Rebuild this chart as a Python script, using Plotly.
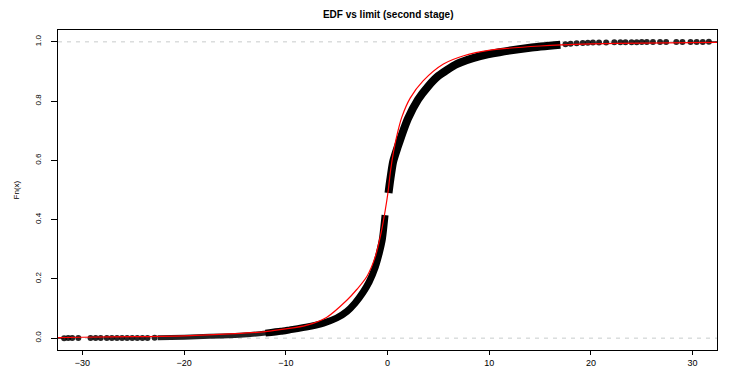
import plotly.graph_objects as go

edf_tail_x = [-22.6, -20.0, -17.5, -15.0, -13.5, -12.0, -10.5, -9.6]
edf_tail_y = [0.001, 0.003, 0.006, 0.009, 0.012, 0.017, 0.023, 0.028]
edf_lo_x = [-12.0, -10.5, -9.6, -8.0, -6.3, -5.0, -4.0, -3.2, -2.4, -1.8, -1.2, -0.8, -0.5, -0.24]
edf_lo_y = [0.017, 0.023, 0.028, 0.037, 0.051, 0.068, 0.090, 0.118, 0.155, 0.190, 0.240,
            0.288, 0.335, 0.415]
edf_hi_x = [0.10, 0.27, 0.55, 1.0, 1.45, 2.0, 3.0, 4.0, 5.0, 6.8, 9.1, 11.0, 14.0, 17.0]
edf_hi_y = [0.490, 0.534, 0.595, 0.645, 0.690, 0.740, 0.805, 0.850, 0.885, 0.925,
            0.952, 0.965, 0.980, 0.990]

# isolated tail observations
tail_lo_x = [-31.8, -31.4, -31.0, -30.4, -29.2, -28.7, -28.2, -27.6, -27.1, -26.6,
             -26.1, -25.6, -25.1, -24.6, -24.1, -23.6, -22.9]
tail_lo_y = [0.0000, 0.0001, 0.0002, 0.0003, 0.0003, 0.0004, 0.0005, 0.0005, 0.0006, 0.0006,
             0.0007, 0.0007, 0.0008, 0.0008, 0.0009, 0.0009, 0.0010]
tail_hi_x = [17.5, 18.0, 18.6, 19.2, 19.7, 20.2, 20.8, 21.5, 22.3, 22.9, 23.4, 24.0, 24.5, 25.0,
             25.5, 26.1, 26.8, 27.4, 28.4, 29.0, 29.8, 30.4, 31.0, 31.6]
tail_hi_y = [0.9920, 0.9935, 0.9950, 0.9962, 0.9970, 0.9975, 0.9978, 0.9980, 0.9983, 0.9985,
             0.9987, 0.9988, 0.9990, 0.9991,
             0.9992, 0.9993, 0.9994, 0.9995, 0.9996, 0.9997, 0.9998, 0.9998, 0.9999, 1.0000]

# limiting distribution (red curve)
lim_x = [-32.4, -30, -25, -20, -15, -12, -10, -8, -6, -4, -3, -2, -1.2, -0.63, -0.23,
         0.04, 0.3, 0.6, 1.0, 1.4, 2.23, 3.5, 5.5, 7.5, 10.1, 15, 20, 25, 32.4]
lim_y = [0.002, 0.003, 0.005, 0.008, 0.015, 0.022, 0.031, 0.043, 0.070, 0.128, 0.165, 0.210,
         0.275, 0.355, 0.430, 0.490, 0.565, 0.630, 0.695, 0.745, 0.810, 0.868, 0.925, 0.953,
         0.972, 0.986, 0.993, 0.996, 0.998]

XR = [-32.4, 32.4]
YR = [-0.04, 1.04]
FONT = "Liberation Sans, Arial, sans-serif"

fig = go.Figure()

# dashed reference lines at 0 and 1
for h in [0, 1]:
    fig.add_trace(go.Scatter(x=XR, y=[h, h], mode="lines",
                             line=dict(color="#c8cccc", width=1, dash="4px,5px"),
                             hoverinfo="skip"))

# thin end segments of the step function
fig.add_trace(go.Scatter(x=[XR[0], tail_lo_x[0]], y=[0, 0], mode="lines",
                         line=dict(color="black", width=1)))
fig.add_trace(go.Scatter(x=[tail_hi_x[-1], XR[1]], y=[1, 1], mode="lines",
                         line=dict(color="black", width=1)))

# tails as dots
fig.add_trace(go.Scatter(x=tail_lo_x + tail_hi_x, y=tail_lo_y + tail_hi_y, mode="markers",
                         marker=dict(color="black", size=6, opacity=0.85)))

# dense body of the EDF
fig.add_trace(go.Scatter(x=edf_tail_x, y=edf_tail_y, mode="lines",
                         line=dict(color="#222222", width=5, shape="spline", smoothing=0.6)))
fig.add_trace(go.Scatter(x=edf_lo_x, y=edf_lo_y, mode="lines",
                         line=dict(color="black", width=7, shape="spline", smoothing=0.6)))
fig.add_trace(go.Scatter(x=edf_hi_x, y=edf_hi_y, mode="lines",
                         line=dict(color="black", width=8, shape="spline", smoothing=0.6)))

# limit curve
fig.add_trace(go.Scatter(x=lim_x, y=lim_y, mode="lines",
                         line=dict(color="red", width=1.2, shape="spline", smoothing=0.8)))

fig.update_xaxes(range=XR, tickvals=[-30, -20, -10, 0, 10, 20, 30],
                 showline=True, linecolor="black", linewidth=1, mirror=True,
                 ticks="outside", ticklen=4, tickcolor="black",
                 showgrid=False, zeroline=False,
                 tickfont=dict(family=FONT, size=9, color="black"))
fig.update_yaxes(range=YR, tickvals=[0, 0.2, 0.4, 0.6, 0.8, 1.0],
                 ticktext=["0.0", "0.2", "0.4", "0.6", "0.8", "1.0"],
                 tickangle=-90, ticklabelstandoff=7,
                 showline=True, linecolor="black", linewidth=1, mirror=True,
                 ticks="outside", ticklen=6, tickcolor="black",
                 showgrid=False, zeroline=False,
                 tickfont=dict(family=FONT, size=8, color="black"))

fig.add_annotation(text="Fn(x)", xref="paper", yref="paper", x=-0.073, y=0.5,
                   textangle=-90, showarrow=False,
                   font=dict(family=FONT, size=8, color="black"))

fig.update_layout(
    width=747, height=388,
    margin=dict(l=50, r=38, t=22, b=46),
    paper_bgcolor="white", plot_bgcolor="white",
    showlegend=False,
    title=dict(text="<b>EDF vs limit (second stage)</b>", x=0.509, xanchor="center",
               y=0.982, yanchor="middle",
               font=dict(family=FONT, size=10, color="black")),
)

fig.write_html("out.html")
